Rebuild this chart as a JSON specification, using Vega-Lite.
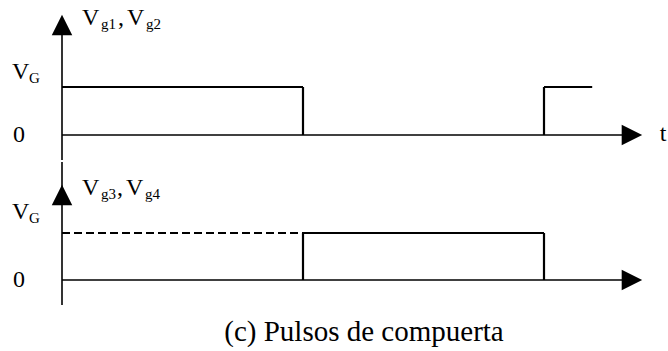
{
  "$schema": "https://vega.github.io/schema/vega-lite/v6.json",
  "padding": 0,
  "spacing": 0,
  "background": "white",
  "config": {"view": {"stroke": null}, "concat": {"spacing": 0}},
  "title": {"text": "(c) Pulsos de compuerta", "orient": "bottom", "anchor": "middle", "font": "Liberation Serif", "fontSize": 29, "fontWeight": "normal", "color": "#000", "dx": 30, "offset": 6},
  "datasets": {
    "signals": [
      {"panel": "top", "id": "a", "style": "solid", "seq": 1, "t": 0, "v": 1},
      {"panel": "top", "id": "a", "style": "solid", "seq": 2, "t": 1, "v": 1},
      {"panel": "top", "id": "a", "style": "solid", "seq": 3, "t": 1, "v": 0},
      {"panel": "top", "id": "b", "style": "solid", "seq": 1, "t": 2, "v": 0},
      {"panel": "top", "id": "b", "style": "solid", "seq": 2, "t": 2, "v": 1},
      {"panel": "top", "id": "b", "style": "solid", "seq": 3, "t": 2.2, "v": 1},
      {"panel": "bottom", "id": "c", "style": "dashed", "seq": 1, "t": 0, "v": 1},
      {"panel": "bottom", "id": "c", "style": "dashed", "seq": 2, "t": 1, "v": 1},
      {"panel": "bottom", "id": "d", "style": "solid", "seq": 1, "t": 1, "v": 0},
      {"panel": "bottom", "id": "d", "style": "solid", "seq": 2, "t": 1, "v": 1},
      {"panel": "bottom", "id": "d", "style": "solid", "seq": 3, "t": 2, "v": 1},
      {"panel": "bottom", "id": "d", "style": "solid", "seq": 4, "t": 2, "v": 0}
    ],
    "axes": [
      {"panel": "top", "t": 0, "t2": 2.33, "v": 0, "v2": 0},
      {"panel": "top", "t": 0, "t2": 0, "v": -0.5208, "v2": 2.1},
      {"panel": "bottom", "t": 0, "t2": 2.33, "v": 0, "v2": 0},
      {"panel": "bottom", "t": 0, "t2": 0, "v": -0.532, "v2": 2.5106}
    ],
    "arrows": [
      {"panel": "top", "dir": "up", "t": 0, "v": 2.2917},
      {"panel": "top", "dir": "right", "t": 2.365, "v": 0},
      {"panel": "bottom", "dir": "up", "t": 0, "v": 1.8085},
      {"panel": "bottom", "dir": "right", "t": 2.365, "v": 0}
    ],
    "labels": [
      {"panel": "top", "part": "main", "text": "V", "t": -0.2075, "v": 1.1667},
      {"panel": "top", "part": "sub", "text": "G", "t": -0.137, "v": 1.1667},
      {"panel": "top", "part": "main", "text": "0", "t": -0.203, "v": -0.146},
      {"panel": "top", "part": "main", "text": "V", "t": 0.083, "v": 2.2917},
      {"panel": "top", "part": "sub", "text": "g1", "t": 0.1618, "v": 2.2917},
      {"panel": "top", "part": "main", "text": ",", "t": 0.232, "v": 2.2917},
      {"panel": "top", "part": "main", "text": "V", "t": 0.2697, "v": 2.2917},
      {"panel": "top", "part": "sub", "text": "g2", "t": 0.3485, "v": 2.2917},
      {"panel": "top", "part": "main", "text": "t", "t": 2.48, "v": -0.125},
      {"panel": "bottom", "part": "main", "text": "V", "t": -0.2075, "v": 1.298},
      {"panel": "bottom", "part": "sub", "text": "G", "t": -0.137, "v": 1.298},
      {"panel": "bottom", "part": "main", "text": "0", "t": -0.203, "v": -0.149},
      {"panel": "bottom", "part": "main", "text": "V", "t": 0.083, "v": 1.8085},
      {"panel": "bottom", "part": "sub", "text": "g3", "t": 0.1618, "v": 1.8085},
      {"panel": "bottom", "part": "main", "text": ",", "t": 0.228, "v": 1.8085},
      {"panel": "bottom", "part": "main", "text": "V", "t": 0.2655, "v": 1.8085},
      {"panel": "bottom", "part": "sub", "text": "g4", "t": 0.3443, "v": 1.8085}
    ]
  },
  "vconcat": [
    {
      "width": 668,
      "height": 160,
      "encoding": {
        "x": {"field": "t", "type": "quantitative", "scale": {"domain": [-0.25726, 2.51452], "nice": false, "zero": false}, "axis": null},
        "y": {"field": "v", "type": "quantitative", "scale": {"domain": [-0.52083, 2.8125], "nice": false, "zero": false}, "axis": null}
      },
      "layer": [
        {
          "data": {"name": "axes"},
          "transform": [{"filter": "datum.panel === 'top'"}],
          "mark": {"type": "rule", "color": "#000", "strokeWidth": 1.6},
          "encoding": {"x2": {"field": "t2"}, "y2": {"field": "v2"}}
        },
        {
          "data": {"name": "signals"},
          "transform": [{"filter": "datum.panel === 'top'"}],
          "mark": {"type": "line", "color": "#000", "strokeWidth": 2.2, "interpolate": "linear"},
          "encoding": {
            "detail": {"field": "id"},
            "order": {"field": "seq", "type": "quantitative"},
            "strokeDash": {"field": "style", "type": "nominal", "scale": {"domain": ["solid", "dashed"], "range": [[1, 0], [8, 4]]}, "legend": null}
          }
        },
        {
          "data": {"name": "arrows"},
          "transform": [{"filter": "datum.panel === 'top'"}],
          "mark": {"type": "point", "filled": true, "color": "#000", "opacity": 1, "size": 420},
          "encoding": {
            "shape": {"field": "dir", "type": "nominal", "scale": {"domain": ["up", "right"], "range": ["M0,-1L1,1L-1,1Z", "M1,0L-1,-1L-1,1Z"]}, "legend": null}
          }
        },
        {
          "data": {"name": "labels"},
          "transform": [{"filter": "datum.panel === 'top' && datum.part === 'main'"}],
          "mark": {"type": "text", "align": "left", "baseline": "alphabetic", "font": "Liberation Serif", "fontSize": 24, "color": "#000"},
          "encoding": {"text": {"field": "text"}}
        },
        {
          "data": {"name": "labels"},
          "transform": [{"filter": "datum.panel === 'top' && datum.part === 'sub'"}],
          "mark": {"type": "text", "align": "left", "baseline": "alphabetic", "font": "Liberation Serif", "fontSize": 15, "dy": 4, "color": "#000"},
          "encoding": {"text": {"field": "text"}}
        }
      ]
    },
    {
      "width": 668,
      "height": 150,
      "encoding": {
        "x": {"field": "t", "type": "quantitative", "scale": {"domain": [-0.25726, 2.51452], "nice": false, "zero": false}, "axis": null},
        "y": {"field": "v", "type": "quantitative", "scale": {"domain": [-0.68085, 2.51064], "nice": false, "zero": false}, "axis": null}
      },
      "layer": [
        {
          "data": {"name": "axes"},
          "transform": [{"filter": "datum.panel === 'bottom'"}],
          "mark": {"type": "rule", "color": "#000", "strokeWidth": 1.6},
          "encoding": {"x2": {"field": "t2"}, "y2": {"field": "v2"}}
        },
        {
          "data": {"name": "signals"},
          "transform": [{"filter": "datum.panel === 'bottom'"}],
          "mark": {"type": "line", "color": "#000", "strokeWidth": 2.2, "interpolate": "linear"},
          "encoding": {
            "detail": {"field": "id"},
            "order": {"field": "seq", "type": "quantitative"},
            "strokeDash": {"field": "style", "type": "nominal", "scale": {"domain": ["solid", "dashed"], "range": [[1, 0], [8, 4]]}, "legend": null}
          }
        },
        {
          "data": {"name": "arrows"},
          "transform": [{"filter": "datum.panel === 'bottom'"}],
          "mark": {"type": "point", "filled": true, "color": "#000", "opacity": 1, "size": 420},
          "encoding": {
            "shape": {"field": "dir", "type": "nominal", "scale": {"domain": ["up", "right"], "range": ["M0,-1L1,1L-1,1Z", "M1,0L-1,-1L-1,1Z"]}, "legend": null}
          }
        },
        {
          "data": {"name": "labels"},
          "transform": [{"filter": "datum.panel === 'bottom' && datum.part === 'main'"}],
          "mark": {"type": "text", "align": "left", "baseline": "alphabetic", "font": "Liberation Serif", "fontSize": 24, "color": "#000"},
          "encoding": {"text": {"field": "text"}}
        },
        {
          "data": {"name": "labels"},
          "transform": [{"filter": "datum.panel === 'bottom' && datum.part === 'sub'"}],
          "mark": {"type": "text", "align": "left", "baseline": "alphabetic", "font": "Liberation Serif", "fontSize": 15, "dy": 4, "color": "#000"},
          "encoding": {"text": {"field": "text"}}
        }
      ]
    }
  ]
}
